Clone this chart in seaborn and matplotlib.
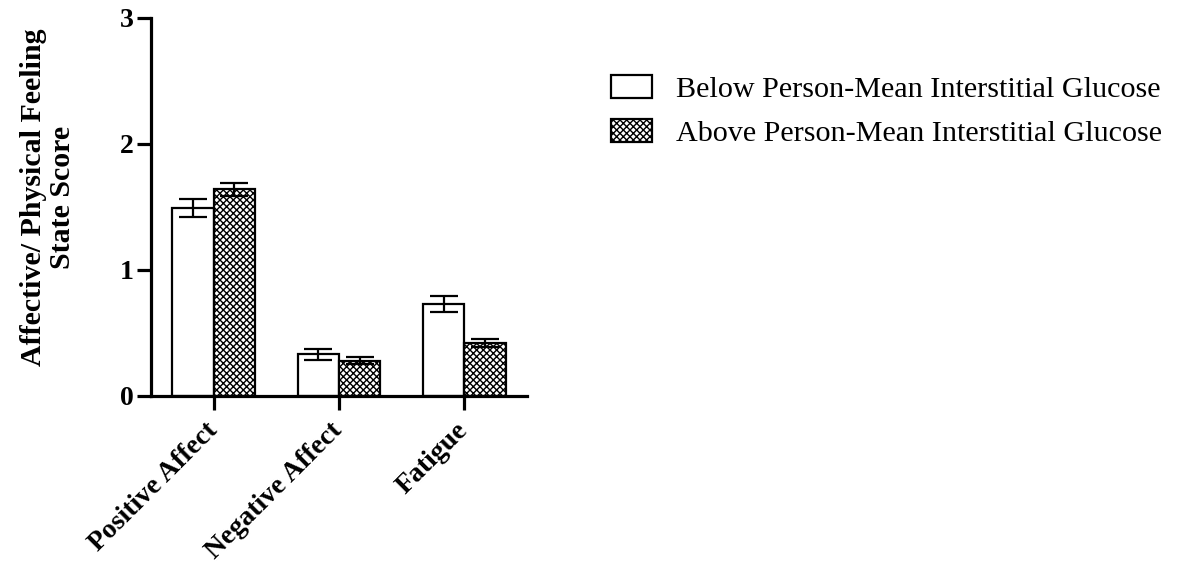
import matplotlib
matplotlib.use("Agg")
import matplotlib.pyplot as plt
import matplotlib.patches as mpatches
import seaborn as sns
import pandas as pd

# Mean feeling-state scores and their standard errors
categories = ["Positive Affect", "Negative Affect", "Fatigue"]
groups = ["Below Person-Mean Interstitial Glucose", "Above Person-Mean Interstitial Glucose"]
below_means = [1.49, 0.33, 0.73]
above_means = [1.64, 0.28, 0.42]
below_se = [0.07, 0.042, 0.06]
above_se = [0.05, 0.03, 0.03]
y_ticks = [0, 1, 2, 3]

sns.set_style("ticks")
plt.rcParams["font.family"] = ["Liberation Serif", "DejaVu Serif"]
plt.rcParams["text.color"] = "black"
plt.rcParams["axes.labelcolor"] = "black"
plt.rcParams["xtick.color"] = "black"
plt.rcParams["ytick.color"] = "black"
plt.rcParams["hatch.color"] = "#b4b4b4"
plt.rcParams["hatch.linewidth"] = 1.0

df = pd.DataFrame({
    "category": categories * 2,
    "group": [groups[0]] * 3 + [groups[1]] * 3,
    "score": below_means + above_means,
})
errs = {groups[0]: below_se, groups[1]: above_se}

fig = plt.figure(figsize=(11.78, 5.70), dpi=100)
ax = fig.add_axes([0.128, 0.3053, 0.3195, 0.6632])

sns.barplot(data=df, x="category", y="score", hue="group", order=categories,
            hue_order=groups, palette=["white", "white"], width=0.66,
            errorbar=None, edgecolor="black", linewidth=1.6, legend=False,
            saturation=1, ax=ax)

# second hue level gets the textured fill; SE bars on every bar
for container, g in zip(ax.containers, groups):
    for bar, err in zip(container, errs[g]):
        if g == groups[1]:
            bar.set_hatch("xxxxx")
        cx = bar.get_x() + bar.get_width() / 2
        ax.errorbar(cx, bar.get_height(), yerr=err, fmt="none", ecolor="black",
                    elinewidth=1.6, capsize=10, capthick=1.6, zorder=5)

ax.set_xlim(-0.5, 2.5)
ax.set_ylim(0, 3)
ax.set_yticks(y_ticks)
ax.set_yticklabels([str(t) for t in y_ticks], fontsize=20, fontweight="bold")
ax.set_xticks(range(len(categories)))
ax.set_xticklabels(categories, rotation=45, ha="right", va="center",
                   rotation_mode="anchor", fontsize=20, fontweight="bold")
ax.set_xlabel("")
ax.set_ylabel("Affective/ Physical Feeling\nState Score", fontsize=21.5,
              fontweight="bold", linespacing=1.05)
ax.yaxis.set_label_coords(-0.20, 0.525)

for side in ["top", "right"]:
    ax.spines[side].set_visible(False)
for side in ["left", "bottom"]:
    ax.spines[side].set_linewidth(2.3)
    ax.spines[side].set_color("black")
ax.tick_params(axis="both", length=10, width=2.3, direction="out", pad=2)
ax.tick_params(axis="x", pad=12)

handles = [
    mpatches.Patch(facecolor="white", edgecolor="black", linewidth=1.6, label=groups[0]),
    mpatches.Patch(facecolor="white", edgecolor="black", linewidth=1.6, hatch="xxxxx", label=groups[1]),
]
fig.legend(handles=handles, loc="upper left", bbox_to_anchor=(611 / 1178, 1 - 75 / 570),
           frameon=False, fontsize=21.7, handlelength=1.35, handleheight=0.8,
           handletextpad=0.8, labelspacing=0.52, borderpad=0, borderaxespad=0)

fig.savefig("out.png", dpi=100, facecolor="white")
